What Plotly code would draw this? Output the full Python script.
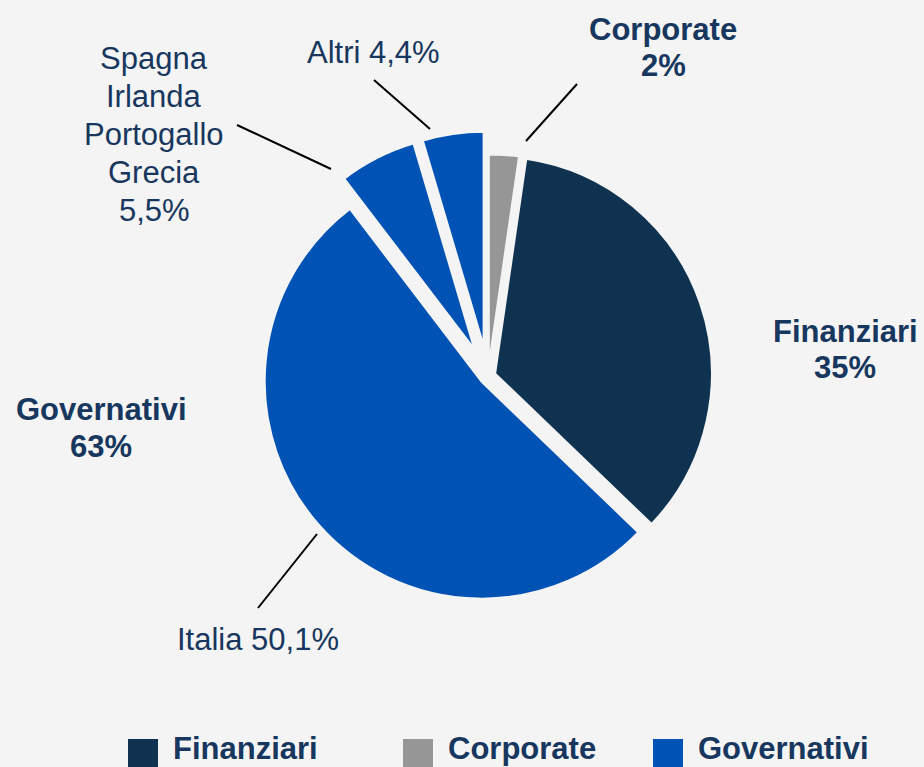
import plotly.graph_objects as go

# slice data, clockwise from 12 o'clock
slice_labels = ["Corporate", "Finanziari", "Italia", "Spagna Irlanda Portogallo Grecia", "Altri"]
slice_values = [2.3, 35.0, 52.6, 5.8, 4.6]
slice_groups = ["Corporate", "Finanziari", "Governativi", "Governativi", "Governativi"]

legend_names = ["Finanziari", "Corporate", "Governativi"]

BG = "#f4f4f4"
TEXT = "#17375e"
FONT = "Liberation Sans, Arial, sans-serif"
COLORS = {"Finanziari": "#0f3250", "Corporate": "#969696", "Governativi": "#0052b4"}
W, H = 924, 767


def px(x, y):
    # pixel -> paper coords
    return x / W, 1 - y / H


fig = go.Figure()

fig.add_trace(
    go.Pie(
        labels=slice_labels,
        values=slice_values,
        sort=False,
        direction="clockwise",
        rotation=0,
        pull=[0.02, 0.032, 0.037, 0.125, 0.125],
        marker=dict(colors=[COLORS[g] for g in slice_groups], line=dict(color=BG, width=3)),
        textinfo="none",
        hoverinfo="label+percent",
        showlegend=False,
        domain=dict(x=[243 / W, 733 / W], y=[1 - 621 / H, 1 - 131 / H]),
    )
)

annotations = []


def add_lines(lines, cx, first_baseline, spacing=38, bold=False, anchor="center"):
    for i, line in enumerate(lines):
        x, y = px(cx, first_baseline + i * spacing - 11)
        txt = f"<b>{line}</b>" if bold else line
        annotations.append(dict(
            x=x, y=y, xref="paper", yref="paper", text=txt, showarrow=False,
            xanchor=anchor, yanchor="middle",
            font=dict(family=FONT, size=31, color=TEXT),
        ))


# category labels (bold)
add_lines(["Corporate", "2%"], 663, 40, spacing=37, bold=True)
add_lines(["Finanziari", "35%"], 845, 342, spacing=37, bold=True)
add_lines(["Governativi", "63%"], 101, 420, spacing=37, bold=True)

# government breakdown
add_lines(["Spagna", "Irlanda", "Portogallo", "Grecia", "5,5%"], 154, 70)
add_lines(["Altri 4,4%"], 373, 63)
add_lines(["Italia 50,1%"], 258, 650)

shapes = []

# leader lines
leaders = [
    ((526, 141), (577, 84)),
    ((374, 80), (430, 129)),
    ((237, 125), (331, 169)),
    ((258, 608), (317, 534)),
]
for (x0, y0), (x1, y1) in leaders:
    a0, b0 = px(x0, y0)
    a1, b1 = px(x1, y1)
    shapes.append(dict(type="line", xref="paper", yref="paper", x0=a0, y0=b0, x1=a1, y1=b1,
                       line=dict(color="black", width=2)))

# manual legend (text sits right on the bottom edge, like the original)
legend_x = [128, 403, 653]
for name, lx in zip(legend_names, legend_x):
    a0, b0 = px(lx, 739)
    a1, b1 = px(lx + 30, 772)
    shapes.append(dict(type="rect", xref="paper", yref="paper", x0=a0, y0=b0, x1=a1, y1=b1,
                       fillcolor=COLORS[name], line=dict(width=0)))
    annotations.append(dict(
        x=(lx + 44) / W, y=0, xref="paper", yref="paper", text=f"<b>{name}</b>",
        showarrow=False, xanchor="left", yanchor="bottom", borderpad=0,
        font=dict(family=FONT, size=31, color=TEXT),
    ))

fig.update_layout(
    width=W,
    height=H,
    margin=dict(l=0, r=0, t=0, b=0),
    paper_bgcolor=BG,
    plot_bgcolor=BG,
    annotations=annotations,
    shapes=shapes,
    showlegend=False,
)

# drop the browser's default body margin so the figure sits at 0,0
fig.write_html(
    "out.html",
    config={"displayModeBar": False},
    post_script="document.body.style.margin='0';document.body.style.overflow='hidden';",
)
